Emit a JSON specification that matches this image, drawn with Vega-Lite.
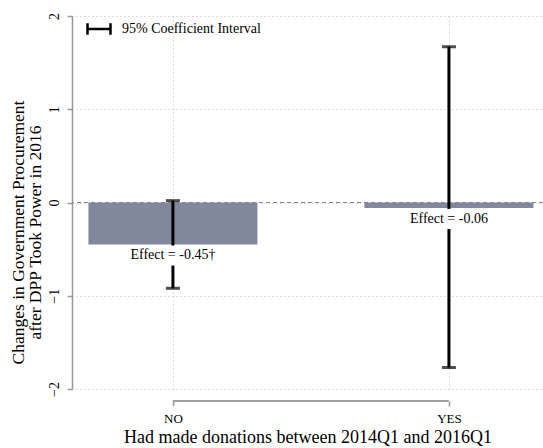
{
  "$schema": "https://vega.github.io/schema/vega-lite/v6.json",
  "width": 471,
  "height": 373,
  "autosize": {"type": "none"},
  "padding": {"left": 72, "top": 16, "right": 0, "bottom": 59},
  "background": "white",
  "config": {"font": "Liberation Serif", "view": {"stroke": null},
    "axis": {"labelFont": "Liberation Serif", "titleFont": "Liberation Serif"},
    "legend": {"labelFont": "Liberation Serif"},
    "text": {"font": "Liberation Serif"}},
  "data": {"values": [
    {"group": 0, "effect": -0.45, "lo": -0.92, "hi": 0.02, "text": "Effect = -0.45†"},
    {"group": 1, "effect": -0.06, "lo": -1.77, "hi": 1.67, "text": "Effect = -0.06"}
  ]},
  "layer": [
    {
      "mark": {"type": "bar", "width": 169, "color": "#7f889d"},
      "encoding": {
        "x": {"field": "group", "type": "quantitative",
          "scale": {"domain": [-0.3475, 1.3227], "nice": false, "zero": false},
          "axis": {"orient": "bottom", "offset": 12, "domain": false, "values": [0, 1],
            "labelExpr": "datum.value == 0 ? 'NO' : 'YES'", "labelFontSize": 13, "labelColor": "black",
            "labelPadding": 6, "ticks": true, "tickSize": 5, "tickColor": "#999", "tickWidth": 1.5,
            "grid": true, "gridDash": [1, 3], "gridColor": "#bbb",
            "title": "Had made donations between 2014Q1 and 2016Q1", "titleFontSize": 18,
            "titleFontWeight": "normal", "titleColor": "black", "titlePadding": 3}},
        "y": {"field": "effect", "type": "quantitative",
          "scale": {"domain": [-2, 2], "nice": false, "zero": false},
          "axis": {"values": [-2, -1, 0, 1, 2], "format": "d", "labelAngle": -90, "labelAlign": "center", "labelBaseline": "bottom",
            "labelFontSize": 14, "labelColor": "black", "labelPadding": 6,
            "domainColor": "#999", "domainWidth": 1.5, "tickColor": "#999", "tickWidth": 1.5, "tickSize": 5,
            "grid": true, "gridDash": [1, 3], "gridColor": "#bbb",
            "title": ["Changes in Government Procurement", "after DPP Took Power in 2016"],
            "titleFontSize": 17.5, "titleLineHeight": 17, "titleFontWeight": "normal", "titleColor": "black",
            "titleAngle": -90, "titleAlign": "center", "titleBaseline": "top", "titleX": -63, "titleY": 216}},
        "y2": {"datum": 0}
      }
    },
    {
      "mark": {"type": "rule", "color": "#888", "strokeDash": [4, 3], "strokeWidth": 1.2},
      "encoding": {"y": {"datum": 0}}
    },
    {
      "mark": {"type": "rule", "strokeWidth": 3},
      "encoding": {
        "x": {"field": "group", "type": "quantitative"},
        "y": {"field": "lo", "type": "quantitative"},
        "y2": {"field": "hi"},
        "color": {"datum": "95% Coefficient Interval", "type": "nominal",
          "scale": {"range": ["black"]},
          "legend": {"title": null, "orient": "none", "legendX": 14, "legendY": 0,
            "symbolType": "M-1,0H1M-1,-0.5V0.5M1,-0.5V0.5", "symbolSize": 529,
            "symbolStrokeWidth": 2.5, "symbolFillColor": "transparent", "labelOffset": 10,
            "labelFontSize": 14, "labelColor": "black", "labelFont": "Liberation Serif"}}
      }
    },
    {
      "mark": {"type": "tick", "orient": "horizontal", "size": 14, "thickness": 3, "color": "black"},
      "encoding": {
        "x": {"field": "group", "type": "quantitative"},
        "y": {"field": "lo", "type": "quantitative"}
      }
    },
    {
      "mark": {"type": "tick", "orient": "horizontal", "size": 14, "thickness": 3, "color": "black"},
      "encoding": {
        "x": {"field": "group", "type": "quantitative"},
        "y": {"field": "hi", "type": "quantitative"}
      }
    },
    {
      "mark": {"type": "point", "shape": "M-1,-0.233H1V0.233H-1Z", "size": 7396, "filled": true,
        "color": "white", "opacity": 1, "strokeWidth": 0, "yOffset": 11},
      "encoding": {
        "x": {"field": "group", "type": "quantitative"},
        "y": {"field": "effect", "type": "quantitative"}
      }
    },
    {
      "mark": {"type": "text", "font": "Liberation Serif", "fontSize": 14, "color": "black", "baseline": "middle", "align": "center", "dy": 11},
      "encoding": {
        "x": {"field": "group", "type": "quantitative"},
        "y": {"field": "effect", "type": "quantitative"},
        "text": {"field": "text"}
      }
    },
    {
      "mark": {"type": "rule", "color": "#999", "strokeWidth": 1.5},
      "encoding": {
        "x": {"datum": 0},
        "x2": {"datum": 1},
        "y": {"datum": -2.129}
      }
    }
  ]
}
